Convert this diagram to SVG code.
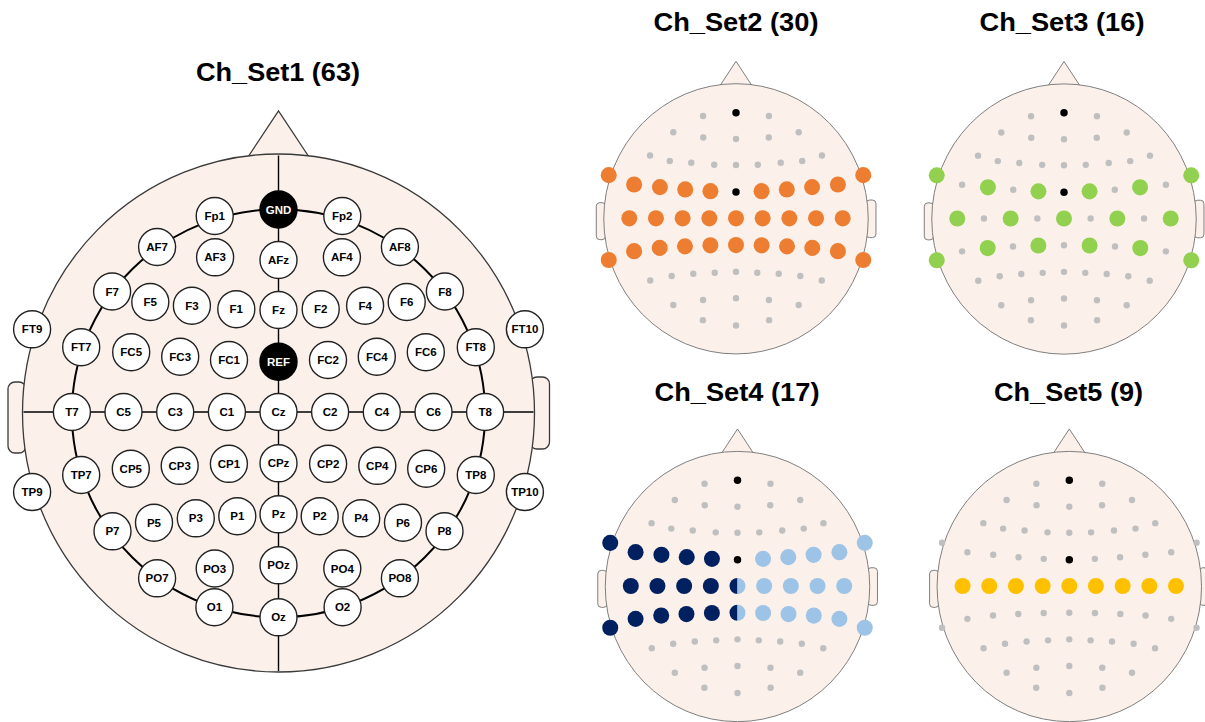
<svg xmlns="http://www.w3.org/2000/svg" xmlns:xlink="http://www.w3.org/1999/xlink" width="1205" height="722" viewBox="0 0 1205 722">
<style>
.title{font-family:"Liberation Sans",Arial,sans-serif;font-weight:bold;font-size:25px;text-anchor:middle;fill:#000}
.hd{fill:#FBF1EA;stroke:#3a3a3a;stroke-width:1.3}
.ln{fill:none;stroke:#000;stroke-width:1.4}
.ring{fill:none;stroke:#000;stroke-width:2}
.el circle{fill:#fff;stroke:#222;stroke-width:1.4}
.el text{font-family:"Liberation Sans",Arial,sans-serif;font-weight:bold;font-size:11.5px;text-anchor:middle;fill:#000}
.blk circle{fill:#000;stroke:#000}
.blk text{fill:#fff}
.gy{fill:#BFBFBF}
.or{fill:#ED7D31}
.gr{fill:#92D050}
.nv{fill:#002060}
.lb{fill:#9DC3E6}
.ye{fill:#FFC000}
</style>
<defs>
<g id="shead">
<rect x="8" y="382" width="18" height="71" rx="7" fill="#FBF1EA" stroke="#7f7f7f" stroke-width="1" vector-effect="non-scaling-stroke"/>
<rect x="530" y="377" width="19.5" height="72" rx="7" fill="#FBF1EA" stroke="#7f7f7f" stroke-width="1" vector-effect="non-scaling-stroke"/>
<path d="M246,160 L278.5,111 L311,160" fill="#FBF1EA" stroke="#7f7f7f" stroke-width="1" vector-effect="non-scaling-stroke"/>
<ellipse cx="278.5" cy="413" rx="256" ry="259" fill="#FBF1EA" stroke="#7f7f7f" stroke-width="1" vector-effect="non-scaling-stroke"/>
</g>
<g id="fixed" fill="#BFBFBF">
<circle cx="214.7" cy="216" r="6.2"/><circle cx="342.3" cy="216" r="6.2"/>
<circle cx="157.1" cy="247" r="6.2"/><circle cx="215.1" cy="257.3" r="6.2"/><circle cx="278.5" cy="260" r="6.2"/><circle cx="341.9" cy="257.3" r="6.2"/><circle cx="399.9" cy="247" r="6.2"/>
<circle cx="112.1" cy="291.5" r="6.2"/><circle cx="150.3" cy="302" r="6.2"/><circle cx="191.9" cy="305.7" r="6.2"/><circle cx="236.3" cy="309.2" r="6.2"/><circle cx="278.5" cy="310" r="6.2"/><circle cx="320.7" cy="309.2" r="6.2"/><circle cx="365.1" cy="305.7" r="6.2"/><circle cx="406.7" cy="302" r="6.2"/><circle cx="444.9" cy="291.5" r="6.2"/>
<circle cx="112.5" cy="531.3" r="6.2"/><circle cx="154" cy="522.7" r="6.2"/><circle cx="195.8" cy="518.3" r="6.2"/><circle cx="237.3" cy="516.2" r="6.2"/><circle cx="278.5" cy="514.3" r="6.2"/><circle cx="319.7" cy="516.2" r="6.2"/><circle cx="361.2" cy="518.3" r="6.2"/><circle cx="403" cy="522.7" r="6.2"/><circle cx="444.5" cy="531.3" r="6.2"/>
<circle cx="157.1" cy="578.3" r="6.2"/><circle cx="214.7" cy="568.5" r="6.2"/><circle cx="278.5" cy="565.3" r="6.2"/><circle cx="342.3" cy="568.5" r="6.2"/><circle cx="399.9" cy="578.3" r="6.2"/>
<circle cx="214.4" cy="607.2" r="6.2"/><circle cx="278.5" cy="617.3" r="6.2"/><circle cx="342.6" cy="607.2" r="6.2"/>
<circle cx="278.5" cy="209.5" r="7.2" fill="#000"/><circle cx="278.5" cy="361.7" r="7.2" fill="#000"/>
</g>
</defs>

<!-- Titles -->
<text class="title" x="278" y="81" textLength="164" lengthAdjust="spacingAndGlyphs">Ch_Set1 (63)</text>
<text class="title" x="736" y="31" textLength="165" lengthAdjust="spacingAndGlyphs">Ch_Set2 (30)</text>
<text class="title" x="1062" y="31" textLength="165" lengthAdjust="spacingAndGlyphs">Ch_Set3 (16)</text>
<text class="title" x="737" y="401" textLength="165" lengthAdjust="spacingAndGlyphs">Ch_Set4 (17)</text>
<text class="title" x="1068.5" y="401" textLength="149" lengthAdjust="spacingAndGlyphs">Ch_Set5 (9)</text>

<!-- Big head -->
<g id="head1">
<rect class="hd" x="8" y="382" width="18" height="71" rx="7"/>
<rect class="hd" x="530" y="377" width="19.5" height="72" rx="7"/>
<path class="hd" d="M246,160 L278.5,111 L311,160"/>
<ellipse class="hd" cx="278.5" cy="413" rx="256" ry="259"/>
</g>
<g id="connectors">
<line class="ln" x1="278.5" y1="155.5" x2="278.5" y2="671"/>
<line class="ln" x1="23.5" y1="412" x2="533.5" y2="412"/>
<ellipse class="ring" cx="278.5" cy="413.3" rx="206.6" ry="204"/>
</g>
<g id="electrodes">
<g id="n-Fp1" class="el"><circle cx="214.7" cy="216" r="18.5"/><text x="214.7" y="220">Fp1</text></g>
<g id="n-GND" class="el blk"><circle cx="278.5" cy="209.5" r="18.5"/><text x="278.5" y="213.5">GND</text></g>
<g id="n-Fp2" class="el"><circle cx="342.3" cy="216" r="18.5"/><text x="342.3" y="220">Fp2</text></g>
<g id="n-AF7" class="el"><circle cx="157.1" cy="247" r="18.5"/><text x="157.1" y="251">AF7</text></g>
<g id="n-AF3" class="el"><circle cx="215.1" cy="257.3" r="18.5"/><text x="215.1" y="261.3">AF3</text></g>
<g id="n-AFz" class="el"><circle cx="278.5" cy="260" r="18.5"/><text x="278.5" y="264">AFz</text></g>
<g id="n-AF4" class="el"><circle cx="341.9" cy="257.3" r="18.5"/><text x="341.9" y="261.3">AF4</text></g>
<g id="n-AF8" class="el"><circle cx="399.9" cy="247" r="18.5"/><text x="399.9" y="251">AF8</text></g>
<g id="n-F7" class="el"><circle cx="112.1" cy="291.5" r="18.5"/><text x="112.1" y="295.5">F7</text></g>
<g id="n-F5" class="el"><circle cx="150.3" cy="302" r="18.5"/><text x="150.3" y="306">F5</text></g>
<g id="n-F3" class="el"><circle cx="191.9" cy="305.7" r="18.5"/><text x="191.9" y="309.7">F3</text></g>
<g id="n-F1" class="el"><circle cx="236.3" cy="309.2" r="18.5"/><text x="236.3" y="313.2">F1</text></g>
<g id="n-Fz" class="el"><circle cx="278.5" cy="310" r="18.5"/><text x="278.5" y="314">Fz</text></g>
<g id="n-F2" class="el"><circle cx="320.7" cy="309.2" r="18.5"/><text x="320.7" y="313.2">F2</text></g>
<g id="n-F4" class="el"><circle cx="365.1" cy="305.7" r="18.5"/><text x="365.1" y="309.7">F4</text></g>
<g id="n-F6" class="el"><circle cx="406.7" cy="302" r="18.5"/><text x="406.7" y="306">F6</text></g>
<g id="n-F8" class="el"><circle cx="444.9" cy="291.5" r="18.5"/><text x="444.9" y="295.5">F8</text></g>
<g id="n-FT9" class="el"><circle cx="32.1" cy="329.3" r="18.5"/><text x="32.1" y="333.3">FT9</text></g>
<g id="n-FT10" class="el"><circle cx="524.9" cy="329.3" r="18.5"/><text x="524.9" y="333.3">FT10</text></g>
<g id="n-FT7" class="el"><circle cx="81.2" cy="347.2" r="18.5"/><text x="81.2" y="351.2">FT7</text></g>
<g id="n-FC5" class="el"><circle cx="131.2" cy="352.2" r="18.5"/><text x="131.2" y="356.2">FC5</text></g>
<g id="n-FC3" class="el"><circle cx="180.2" cy="356.7" r="18.5"/><text x="180.2" y="360.7">FC3</text></g>
<g id="n-FC1" class="el"><circle cx="229" cy="360" r="18.5"/><text x="229" y="364">FC1</text></g>
<g id="n-REF" class="el blk"><circle cx="278.5" cy="361.7" r="18.5"/><text x="278.5" y="365.7">REF</text></g>
<g id="n-FC2" class="el"><circle cx="328" cy="360" r="18.5"/><text x="328" y="364">FC2</text></g>
<g id="n-FC4" class="el"><circle cx="376.8" cy="356.7" r="18.5"/><text x="376.8" y="360.7">FC4</text></g>
<g id="n-FC6" class="el"><circle cx="425.8" cy="352.2" r="18.5"/><text x="425.8" y="356.2">FC6</text></g>
<g id="n-FT8" class="el"><circle cx="475.8" cy="347.2" r="18.5"/><text x="475.8" y="351.2">FT8</text></g>
<g id="n-T7" class="el"><circle cx="71.9" cy="412" r="18.5"/><text x="71.9" y="416">T7</text></g>
<g id="n-C5" class="el"><circle cx="123.5" cy="412" r="18.5"/><text x="123.5" y="416">C5</text></g>
<g id="n-C3" class="el"><circle cx="175.2" cy="412" r="18.5"/><text x="175.2" y="416">C3</text></g>
<g id="n-C1" class="el"><circle cx="226.9" cy="412" r="18.5"/><text x="226.9" y="416">C1</text></g>
<g id="n-Cz" class="el"><circle cx="278.5" cy="412" r="18.5"/><text x="278.5" y="416">Cz</text></g>
<g id="n-C2" class="el"><circle cx="330.1" cy="412" r="18.5"/><text x="330.1" y="416">C2</text></g>
<g id="n-C4" class="el"><circle cx="381.8" cy="412" r="18.5"/><text x="381.8" y="416">C4</text></g>
<g id="n-C6" class="el"><circle cx="433.5" cy="412" r="18.5"/><text x="433.5" y="416">C6</text></g>
<g id="n-T8" class="el"><circle cx="485.1" cy="412" r="18.5"/><text x="485.1" y="416">T8</text></g>
<g id="n-TP9" class="el"><circle cx="32.1" cy="492" r="18.5"/><text x="32.1" y="496">TP9</text></g>
<g id="n-TP10" class="el"><circle cx="524.9" cy="492" r="18.5"/><text x="524.9" y="496">TP10</text></g>
<g id="n-TP7" class="el"><circle cx="81.2" cy="475" r="18.5"/><text x="81.2" y="479">TP7</text></g>
<g id="n-CP5" class="el"><circle cx="130.8" cy="468.7" r="18.5"/><text x="130.8" y="472.7">CP5</text></g>
<g id="n-CP3" class="el"><circle cx="179.7" cy="465.8" r="18.5"/><text x="179.7" y="469.8">CP3</text></g>
<g id="n-CP1" class="el"><circle cx="228.9" cy="463.8" r="18.5"/><text x="228.9" y="467.8">CP1</text></g>
<g id="n-CPz" class="el"><circle cx="278.5" cy="463.3" r="18.5"/><text x="278.5" y="467.3">CPz</text></g>
<g id="n-CP2" class="el"><circle cx="328.1" cy="463.8" r="18.5"/><text x="328.1" y="467.8">CP2</text></g>
<g id="n-CP4" class="el"><circle cx="377.3" cy="465.8" r="18.5"/><text x="377.3" y="469.8">CP4</text></g>
<g id="n-CP6" class="el"><circle cx="426.2" cy="468.7" r="18.5"/><text x="426.2" y="472.7">CP6</text></g>
<g id="n-TP8" class="el"><circle cx="475.8" cy="475" r="18.5"/><text x="475.8" y="479">TP8</text></g>
<g id="n-P7" class="el"><circle cx="112.5" cy="531.3" r="18.5"/><text x="112.5" y="535.3">P7</text></g>
<g id="n-P5" class="el"><circle cx="154" cy="522.7" r="18.5"/><text x="154" y="526.7">P5</text></g>
<g id="n-P3" class="el"><circle cx="195.8" cy="518.3" r="18.5"/><text x="195.8" y="522.3">P3</text></g>
<g id="n-P1" class="el"><circle cx="237.3" cy="516.2" r="18.5"/><text x="237.3" y="520.2">P1</text></g>
<g id="n-Pz" class="el"><circle cx="278.5" cy="514.3" r="18.5"/><text x="278.5" y="518.3">Pz</text></g>
<g id="n-P2" class="el"><circle cx="319.7" cy="516.2" r="18.5"/><text x="319.7" y="520.2">P2</text></g>
<g id="n-P4" class="el"><circle cx="361.2" cy="518.3" r="18.5"/><text x="361.2" y="522.3">P4</text></g>
<g id="n-P6" class="el"><circle cx="403" cy="522.7" r="18.5"/><text x="403" y="526.7">P6</text></g>
<g id="n-P8" class="el"><circle cx="444.5" cy="531.3" r="18.5"/><text x="444.5" y="535.3">P8</text></g>
<g id="n-PO7" class="el"><circle cx="157.1" cy="578.3" r="18.5"/><text x="157.1" y="582.3">PO7</text></g>
<g id="n-PO3" class="el"><circle cx="214.7" cy="568.5" r="18.5"/><text x="214.7" y="572.5">PO3</text></g>
<g id="n-POz" class="el"><circle cx="278.5" cy="565.3" r="18.5"/><text x="278.5" y="569.3">POz</text></g>
<g id="n-PO4" class="el"><circle cx="342.3" cy="568.5" r="18.5"/><text x="342.3" y="572.5">PO4</text></g>
<g id="n-PO8" class="el"><circle cx="399.9" cy="578.3" r="18.5"/><text x="399.9" y="582.3">PO8</text></g>
<g id="n-O1" class="el"><circle cx="214.4" cy="607.2" r="18.5"/><text x="214.4" y="611.2">O1</text></g>
<g id="n-Oz" class="el"><circle cx="278.5" cy="617.3" r="18.5"/><text x="278.5" y="621.3">Oz</text></g>
<g id="n-O2" class="el"><circle cx="342.6" cy="607.2" r="18.5"/><text x="342.6" y="611.2">O2</text></g>
</g>

<!-- Ch_Set2 -->
<g id="set2" transform="translate(736,218.3) scale(0.5165,0.5217) translate(-278.5,-412)">
<use xlink:href="#shead" href="#shead"/>
<use xlink:href="#fixed" href="#fixed"/>
<g class="or">
<circle cx="32.1" cy="329.3" r="15.5"/><circle cx="524.9" cy="329.3" r="15.5"/>
<circle cx="81.2" cy="347.2" r="15.5"/><circle cx="131.2" cy="352.2" r="15.5"/><circle cx="180.2" cy="356.7" r="15.5"/><circle cx="229" cy="360" r="15.5"/><circle cx="328" cy="360" r="15.5"/><circle cx="376.8" cy="356.7" r="15.5"/><circle cx="425.8" cy="352.2" r="15.5"/><circle cx="475.8" cy="347.2" r="15.5"/>
<circle cx="71.9" cy="412" r="15.5"/><circle cx="123.5" cy="412" r="15.5"/><circle cx="175.2" cy="412" r="15.5"/><circle cx="226.9" cy="412" r="15.5"/><circle cx="278.5" cy="412" r="15.5"/><circle cx="330.1" cy="412" r="15.5"/><circle cx="381.8" cy="412" r="15.5"/><circle cx="433.5" cy="412" r="15.5"/><circle cx="485.1" cy="412" r="15.5"/>
<circle cx="32.1" cy="492" r="15.5"/><circle cx="524.9" cy="492" r="15.5"/>
<circle cx="81.2" cy="475" r="15.5"/><circle cx="130.8" cy="468.7" r="15.5"/><circle cx="179.7" cy="465.8" r="15.5"/><circle cx="228.9" cy="463.8" r="15.5"/><circle cx="278.5" cy="463.3" r="15.5"/><circle cx="328.1" cy="463.8" r="15.5"/><circle cx="377.3" cy="465.8" r="15.5"/><circle cx="426.2" cy="468.7" r="15.5"/><circle cx="475.8" cy="475" r="15.5"/>
</g>
</g>

<!-- Ch_Set3 -->
<g id="set3" transform="translate(1064,218.5) scale(0.5165,0.5217) translate(-278.5,-412)">
<use xlink:href="#shead" href="#shead"/>
<use xlink:href="#fixed" href="#fixed"/>
<g class="gy">
<circle cx="81.2" cy="347.2" r="6.2"/><circle cx="180.2" cy="356.7" r="6.2"/><circle cx="376.8" cy="356.7" r="6.2"/><circle cx="475.8" cy="347.2" r="6.2"/>
<circle cx="123.5" cy="412" r="6.2"/><circle cx="226.9" cy="412" r="6.2"/><circle cx="330.1" cy="412" r="6.2"/><circle cx="433.5" cy="412" r="6.2"/>
<circle cx="81.2" cy="475" r="6.2"/><circle cx="179.7" cy="465.8" r="6.2"/><circle cx="278.5" cy="463.3" r="6.2"/><circle cx="377.3" cy="465.8" r="6.2"/><circle cx="475.8" cy="475" r="6.2"/>
</g>
<g class="gr">
<circle cx="32.1" cy="329.3" r="15.5"/><circle cx="524.9" cy="329.3" r="15.5"/>
<circle cx="131.2" cy="352.2" r="15.5"/><circle cx="229" cy="360" r="15.5"/><circle cx="328" cy="360" r="15.5"/><circle cx="425.8" cy="352.2" r="15.5"/>
<circle cx="71.9" cy="412" r="15.5"/><circle cx="175.2" cy="412" r="15.5"/><circle cx="278.5" cy="412" r="15.5"/><circle cx="381.8" cy="412" r="15.5"/><circle cx="485.1" cy="412" r="15.5"/>
<circle cx="32.1" cy="492" r="15.5"/><circle cx="524.9" cy="492" r="15.5"/>
<circle cx="130.8" cy="468.7" r="15.5"/><circle cx="228.9" cy="463.8" r="15.5"/><circle cx="328.1" cy="463.8" r="15.5"/><circle cx="426.2" cy="468.7" r="15.5"/>
</g>
</g>

<!-- Ch_Set4 -->
<g id="set4" transform="translate(737.5,586) scale(0.5165,0.5217) translate(-278.5,-412)">
<use xlink:href="#shead" href="#shead"/>
<use xlink:href="#fixed" href="#fixed"/>
<g class="nv">
<circle cx="32.1" cy="329.3" r="15.5"/><circle cx="32.1" cy="492" r="15.5"/>
<circle cx="81.2" cy="347.2" r="15.5"/><circle cx="131.2" cy="352.2" r="15.5"/><circle cx="180.2" cy="356.7" r="15.5"/><circle cx="229" cy="360" r="15.5"/>
<circle cx="71.9" cy="412" r="15.5"/><circle cx="123.5" cy="412" r="15.5"/><circle cx="175.2" cy="412" r="15.5"/><circle cx="226.9" cy="412" r="15.5"/>
<circle cx="81.2" cy="475" r="15.5"/><circle cx="130.8" cy="468.7" r="15.5"/><circle cx="179.7" cy="465.8" r="15.5"/><circle cx="228.9" cy="463.8" r="15.5"/>
<path d="M278.5,396.5 A15.5,15.5 0 0 0 278.5,427.5 Z"/>
<path d="M278.5,447.8 A15.5,15.5 0 0 0 278.5,478.8 Z"/>
</g>
<g class="lb">
<circle cx="524.9" cy="329.3" r="15.5"/><circle cx="524.9" cy="492" r="15.5"/>
<circle cx="328" cy="360" r="15.5"/><circle cx="376.8" cy="356.7" r="15.5"/><circle cx="425.8" cy="352.2" r="15.5"/><circle cx="475.8" cy="347.2" r="15.5"/>
<circle cx="330.1" cy="412" r="15.5"/><circle cx="381.8" cy="412" r="15.5"/><circle cx="433.5" cy="412" r="15.5"/><circle cx="485.1" cy="412" r="15.5"/>
<circle cx="328.1" cy="463.8" r="15.5"/><circle cx="377.3" cy="465.8" r="15.5"/><circle cx="426.2" cy="468.7" r="15.5"/><circle cx="475.8" cy="475" r="15.5"/>
<path d="M278.5,396.5 A15.5,15.5 0 0 1 278.5,427.5 Z"/>
<path d="M278.5,447.8 A15.5,15.5 0 0 1 278.5,478.8 Z"/>
</g>
</g>

<!-- Ch_Set5 -->
<g id="set5" transform="translate(1069.3,586) scale(0.5165,0.5217) translate(-278.5,-412)">
<use xlink:href="#shead" href="#shead"/>
<use xlink:href="#fixed" href="#fixed"/>
<g class="gy">
<circle cx="32.1" cy="329.3" r="6.2"/><circle cx="524.9" cy="329.3" r="6.2"/>
<circle cx="81.2" cy="347.2" r="6.2"/><circle cx="131.2" cy="352.2" r="6.2"/><circle cx="180.2" cy="356.7" r="6.2"/><circle cx="229" cy="360" r="6.2"/><circle cx="328" cy="360" r="6.2"/><circle cx="376.8" cy="356.7" r="6.2"/><circle cx="425.8" cy="352.2" r="6.2"/><circle cx="475.8" cy="347.2" r="6.2"/>
<circle cx="32.1" cy="492" r="6.2"/><circle cx="524.9" cy="492" r="6.2"/>
<circle cx="81.2" cy="475" r="6.2"/><circle cx="130.8" cy="468.7" r="6.2"/><circle cx="179.7" cy="465.8" r="6.2"/><circle cx="228.9" cy="463.8" r="6.2"/><circle cx="278.5" cy="463.3" r="6.2"/><circle cx="328.1" cy="463.8" r="6.2"/><circle cx="377.3" cy="465.8" r="6.2"/><circle cx="426.2" cy="468.7" r="6.2"/><circle cx="475.8" cy="475" r="6.2"/>
</g>
<g class="ye">
<circle cx="71.9" cy="412" r="15.5"/><circle cx="123.5" cy="412" r="15.5"/><circle cx="175.2" cy="412" r="15.5"/><circle cx="226.9" cy="412" r="15.5"/><circle cx="278.5" cy="412" r="15.5"/><circle cx="330.1" cy="412" r="15.5"/><circle cx="381.8" cy="412" r="15.5"/><circle cx="433.5" cy="412" r="15.5"/><circle cx="485.1" cy="412" r="15.5"/>
</g>
</g>
</svg>
